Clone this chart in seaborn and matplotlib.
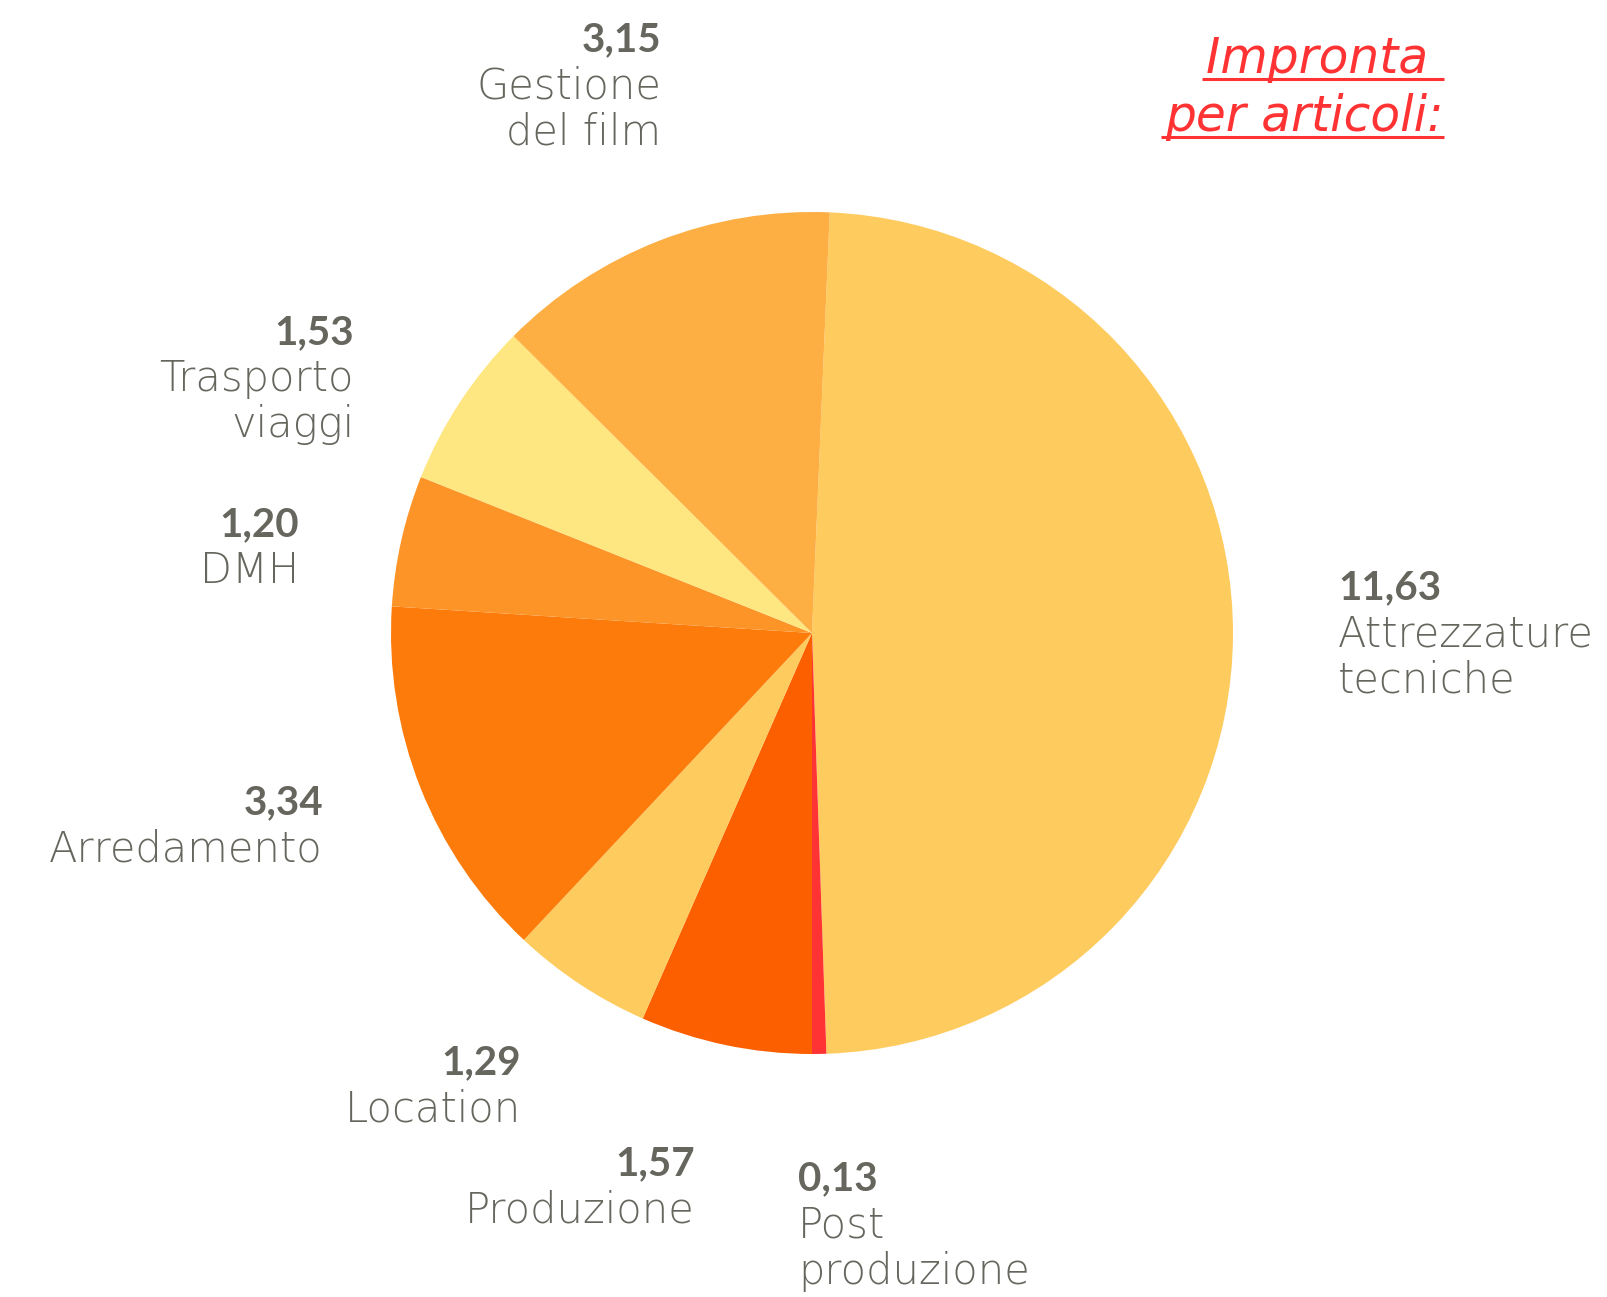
import matplotlib
matplotlib.use("Agg")
import matplotlib.pyplot as plt
import seaborn as sns

sns.set_theme(style="white")
plt.rcParams['font.family'] = ['DejaVu Sans']

# Data (clockwise from top)
categories = ["Attrezzature\ntecniche", "Post\nproduzione", "Produzione", "Location",
              "Arredamento", "DMH", "Trasporto\nviaggi", "Gestione\ndel film"]
values = [11.63, 0.13, 1.57, 1.29, 3.34, 1.20, 1.53, 3.15]
value_labels = ["11,63", "0,13", "1,57", "1,29", "3,34", "1,20", "1,53", "3,15"]
colors = ["#FECB5E", "#FF3333", "#FC5F00", "#FECB5E", "#FD7B0A", "#FD9427", "#FEE680", "#FEAF43"]
title_lines = ["Impronta ", "per articoli:"]

W, H = 1608, 1297
fig = plt.figure(figsize=(W / 100, H / 100), dpi=100)
ax = fig.add_axes([0, 0, 1, 1])

total = sum(values)
start = -90 + 360 * (values[0] + values[1]) / total
ax.pie(values, colors=colors, startangle=start, counterclock=False,
       center=(812, H - 633), radius=421, wedgeprops=dict(linewidth=0))
ax.set_xlim(0, W)
ax.set_ylim(0, H)
ax.set_aspect('equal')
ax.axis('off')

gray = "#66665E"
fs_num = 29
fs_lab = 30
lh = 46
# label anchor: (x, y of number line, ha)
anchors = [
    (1338, 588, 'left'),   # Attrezzature
    (798, 1179, 'left'),   # Post
    (695, 1164, 'right'),  # Produzione
    (521, 1063, 'right'),  # Location
    (323, 803, 'right'),   # Arredamento
    (299, 525, 'right'),   # DMH
    (354, 333, 'right'),   # Trasporto
    (661, 40, 'right'),    # Gestione
]
for (x, y, ha), num, cat in zip(anchors, value_labels, categories):
    ax.text(x, H - y, num, ha=ha, va='center', fontsize=fs_num, fontweight='bold',
            color=gray, family=['Lato', 'DejaVu Sans'])
    for i, line in enumerate(cat.split("\n")):
        ax.text(x, H - (y + lh * (i + 1)), line, ha=ha, va='center', fontsize=fs_lab,
                fontweight='light', color=gray)

red = "#FF3333"
fig.canvas.draw()
renderer = fig.canvas.get_renderer()
inv = ax.transData.inverted()
baselines = [73, 131]
for line, bl in zip(title_lines, baselines):
    t = ax.text(1444, H - bl, line, ha='right', va='baseline', fontsize=35, fontstyle='oblique',
                fontweight='normal', color=red)
    bb = t.get_window_extent(renderer)
    (x0, y0), (x1, y1) = inv.transform([(bb.x0, bb.y0), (bb.x1, bb.y1)])
    ax.plot([x0 - 4, 1444], [H - bl - 6, H - bl - 6], color=red, linewidth=2.2,
            solid_capstyle='butt')

fig.savefig("out.png", dpi=100)
